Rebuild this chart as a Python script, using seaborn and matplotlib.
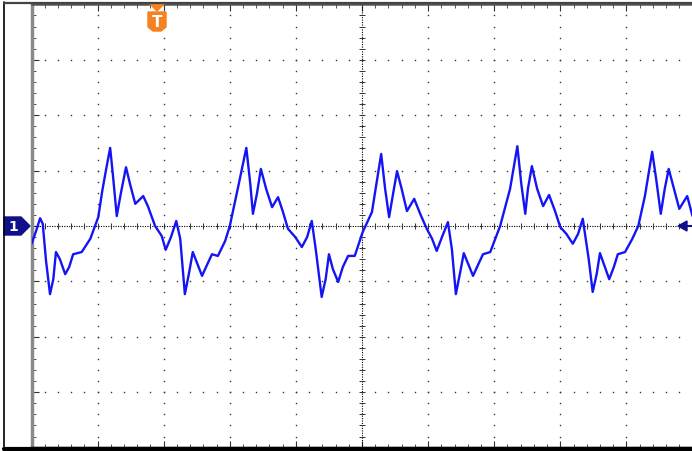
import numpy as np
import pandas as pd
import matplotlib

matplotlib.use("Agg")
import matplotlib.pyplot as plt
import seaborn as sns
from matplotlib.patches import Polygon
from matplotlib.lines import Line2D

# screen grid: 10 horizontal divisions, 8 vertical divisions
x_divs = 10
y_divs = 8

# channel 1 trace (time in divisions, volts in divisions)
time_div = [
    0.00, 0.07, 0.13, 0.17, 0.22, 0.28, 0.33, 0.37, 0.43, 0.51, 0.57, 0.63, 0.76, 0.89,
    1.01, 1.07, 1.13, 1.19, 1.23, 1.29, 1.35, 1.43, 1.49, 1.57, 1.69, 1.76, 1.87, 1.97,
    2.03, 2.11, 2.19, 2.25, 2.32, 2.38, 2.44, 2.58, 2.66, 2.73, 2.82, 2.93, 3.00, 3.12,
    3.25, 3.31, 3.35, 3.41, 3.47, 3.55, 3.64, 3.73, 3.80, 3.88, 3.99, 4.09, 4.17, 4.24,
    4.30, 4.39, 4.45, 4.50, 4.56, 4.64, 4.71, 4.79, 4.89, 5.01, 5.15, 5.23, 5.29, 5.35,
    5.41, 5.47, 5.53, 5.60, 5.68, 5.79, 5.88, 5.98, 6.06, 6.13, 6.21, 6.30, 6.36, 6.42,
    6.48, 6.54, 6.68, 6.76, 6.83, 6.94, 7.09, 7.24, 7.35, 7.41, 7.47, 7.51, 7.57, 7.65,
    7.74, 7.83, 7.92, 8.00, 8.09, 8.19, 8.27, 8.34, 8.43, 8.49, 8.55, 8.60, 8.74, 8.81,
    8.87, 8.98, 9.09, 9.18, 9.28, 9.39, 9.45, 9.52, 9.58, 9.64, 9.72, 9.80, 9.92, 10.0,
]
ch1_div = [
    -0.32, -0.09, 0.14, 0.04, -0.63, -1.23, -0.96, -0.47, -0.60, -0.87, -0.74, -0.51, -0.47, -0.23,
    0.16, 0.63, 1.03, 1.41, 0.94, 0.18, 0.58, 1.06, 0.76, 0.40, 0.54, 0.36, 0.00, -0.18,
    -0.43, -0.20, 0.09, -0.23, -1.23, -0.87, -0.47, -0.90, -0.69, -0.51, -0.54, -0.27, 0.00, 0.67,
    1.41, 0.76, 0.22, 0.58, 1.03, 0.67, 0.34, 0.52, 0.27, -0.05, -0.20, -0.38, -0.20, 0.09,
    -0.42, -1.28, -0.96, -0.51, -0.78, -1.01, -0.74, -0.54, -0.54, -0.11, 0.25, 0.85, 1.30, 0.67,
    0.16, 0.58, 0.99, 0.67, 0.27, 0.49, 0.22, -0.05, -0.23, -0.45, -0.20, 0.07, -0.42, -1.23,
    -0.87, -0.49, -0.90, -0.69, -0.51, -0.47, 0.00, 0.67, 1.44, 0.76, 0.22, 0.67, 1.08, 0.67,
    0.36, 0.56, 0.27, -0.02, -0.14, -0.32, -0.14, 0.13, -0.60, -1.19, -0.87, -0.49, -0.96, -0.74,
    -0.51, -0.47, -0.23, 0.00, 0.54, 1.34, 0.85, 0.22, 0.67, 1.03, 0.67, 0.31, 0.54, 0.18,
]

trace = pd.DataFrame({"t": time_div, "v": ch1_div})

W, H = 692, 452
sns.set_style("white")
fig = plt.figure(figsize=(W / 100, H / 100), dpi=100)
ax = fig.add_axes([31.5 / W, (H - 448.6) / H, 661 / W, 443.2 / H])
ax.set_xlim(0, x_divs)
ax.set_ylim(-y_divs / 2, y_divs / 2)


def px(x, y):
    # screen pixel -> figure fraction
    return (x / W, 1 - y / H)


# dotted graticule
minor_x = np.arange(0, x_divs + 0.01, 0.2)
minor_y = np.arange(-y_divs / 2, y_divs / 2 + 0.01, 0.2)
dot = dict(ls="none", marker="s", ms=1.0, mew=0, color="#333333", zorder=1)
for gy in range(-3, 4):
    if gy != 0:
        ax.plot(minor_x, np.full_like(minor_x, gy), **dot)
for gx in range(1, x_divs):
    if gx != 5:
        ax.plot(np.full_like(minor_y, gx), minor_y, **dot)

# centre axes: dense dotted line with small ticks
ax.axhline(0, color="black", lw=0.8, ls=(0, (1, 1.2)), zorder=1)
ax.axvline(5, color="black", lw=0.8, ls=(0, (1, 1.2)), zorder=1)
ax.plot(minor_x, np.zeros_like(minor_x), ls="none", marker="|", ms=5, mew=0.7,
        color="#333333", zorder=1)
ax.plot(np.full_like(minor_y, 5), minor_y, ls="none", marker="_", ms=5, mew=0.7,
        color="#333333", zorder=1)

# the trace
sns.lineplot(data=trace, x="t", y="v", ax=ax, color="#1414f5", lw=1.7,
             estimator=None, sort=False, zorder=3,
             solid_joinstyle="round", solid_capstyle="round")

# frame and ruler ticks
ax.set_xticks(range(0, x_divs + 1))
ax.set_yticks(range(-4, 5))
ax.set_xticks(minor_x, minor=True)
ax.set_yticks(minor_y, minor=True)
ax.tick_params(which="both", direction="in", top=True, bottom=True, left=True,
               right=False, labelbottom=False, labelleft=False, color="#333333")
ax.tick_params(which="major", length=5, width=0.8)
ax.tick_params(which="minor", length=3, width=0.6)
ax.set_xlabel("")
ax.set_ylabel("")
ax.spines["left"].set_color("#8a8a8a")
ax.spines["left"].set_linewidth(2.5)
ax.spines["top"].set_color("#555555")
ax.spines["top"].set_linewidth(1.8)
ax.spines["bottom"].set_color("black")
ax.spines["bottom"].set_linewidth(2.5)
ax.spines["right"].set_visible(False)

# outer screen border
fig.add_artist(Line2D([3.5 / W, 3.5 / W], [0, 1 - 3 / H], color="black", lw=1.2))
fig.add_artist(Line2D([3.5 / W, 1], [1 - 450 / H, 1 - 450 / H], color="black", lw=3))
fig.add_artist(Line2D([3.5 / W, 1], [1 - 4 / H, 1 - 4 / H], color="#444444", lw=1.6))

# channel 1 marker
navy = "#10108a"
fig.add_artist(Polygon([px(4, 218), px(21, 218), px(30, 227), px(21, 236), px(4, 236)],
                       closed=True, color=navy, transform=fig.transFigure))
fig.text(*px(13, 227), "1", color="white", fontsize=10, fontweight="bold",
         ha="center", va="center")

# trigger level arrow on the right
fig.add_artist(Polygon([px(678, 227), px(687, 222), px(687, 232)], closed=True,
                       color=navy, transform=fig.transFigure))
fig.add_artist(Line2D([686 / W, 1], [1 - 227 / H] * 2, color=navy, lw=1.5))

# trigger position marker
orange = "#f58220"
fig.add_artist(Polygon([px(150, 5), px(164, 5), px(157, 12)], closed=True,
                       color=orange, transform=fig.transFigure))
fig.add_artist(Polygon([px(148, 13), px(166, 13), px(166, 28), px(161, 32), px(153, 32),
                        px(148, 28)], closed=True, color=orange, transform=fig.transFigure))
fig.text(*px(157, 22.5), "T", color="white", fontsize=11, fontweight="bold",
         ha="center", va="center")

fig.savefig("out.png", dpi=100)
plt.close(fig)
